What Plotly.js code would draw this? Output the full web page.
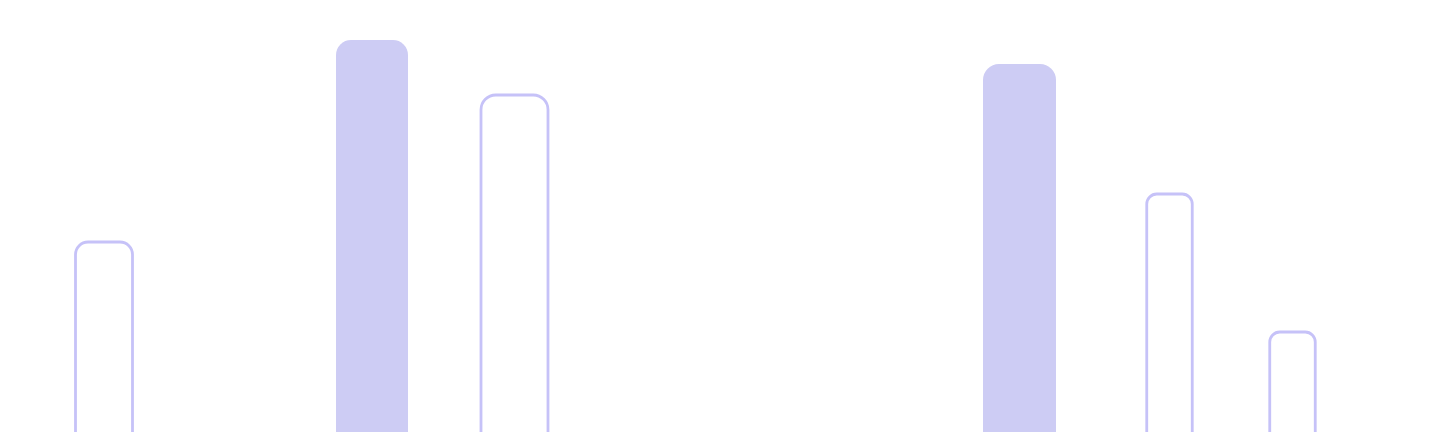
<!DOCTYPE html>
<html>
<head>
<meta charset="utf-8">
<script src="https://cdn.plot.ly/plotly-3.0.1.min.js"></script>
<style>
  html, body { margin: 0; padding: 0; background: #ffffff; }
  #chart { width: 1440px; height: 432px; }
</style>
</head>
<body>
<div id="chart"></div>
<script>
// solid bars
const solidX = [372, 1019.5];
const solidY = [402, 378];
const solidW = [72, 73];

// outlined bars
const outlineX = [104, 514.5, 1169.5, 1292.5];
const outlineY = [200, 347, 248, 110];
const outlineW = [57, 67, 45.5, 45.5];

const C = {
    fill: "#CDCCF4",
    stroke: "#C6C2F8"
};

const traces = [
    {
        type: "bar",
        x: solidX,
        y: solidY,
        width: solidW,
        marker: { color: C.fill, line: { width: 0 }, cornerradius: "22%" },
        hoverinfo: "skip",
        showlegend: false
    },
    {
        type: "bar",
        x: outlineX,
        y: outlineY,
        width: outlineW,
        marker: {
            color: "rgba(255,255,255,0)",
            line: { color: C.stroke, width: 2.8 },
            cornerradius: "22%"
        },
        hoverinfo: "skip",
        showlegend: false
    }
];

const layout = {
    width: 1440,
    height: 432,
    margin: { l: 0, r: 0, t: 0, b: 0 },
    paper_bgcolor: "#ffffff",
    plot_bgcolor: "#ffffff",
    barmode: "overlay",
    showlegend: false,
    xaxis: { range: [0, 1440], visible: false, fixedrange: true },
    yaxis: { range: [10, 442], visible: false, fixedrange: true }
};

Plotly.newPlot("chart", traces, layout, { displayModeBar: false, staticPlot: true });
</script>
</body>
</html>
